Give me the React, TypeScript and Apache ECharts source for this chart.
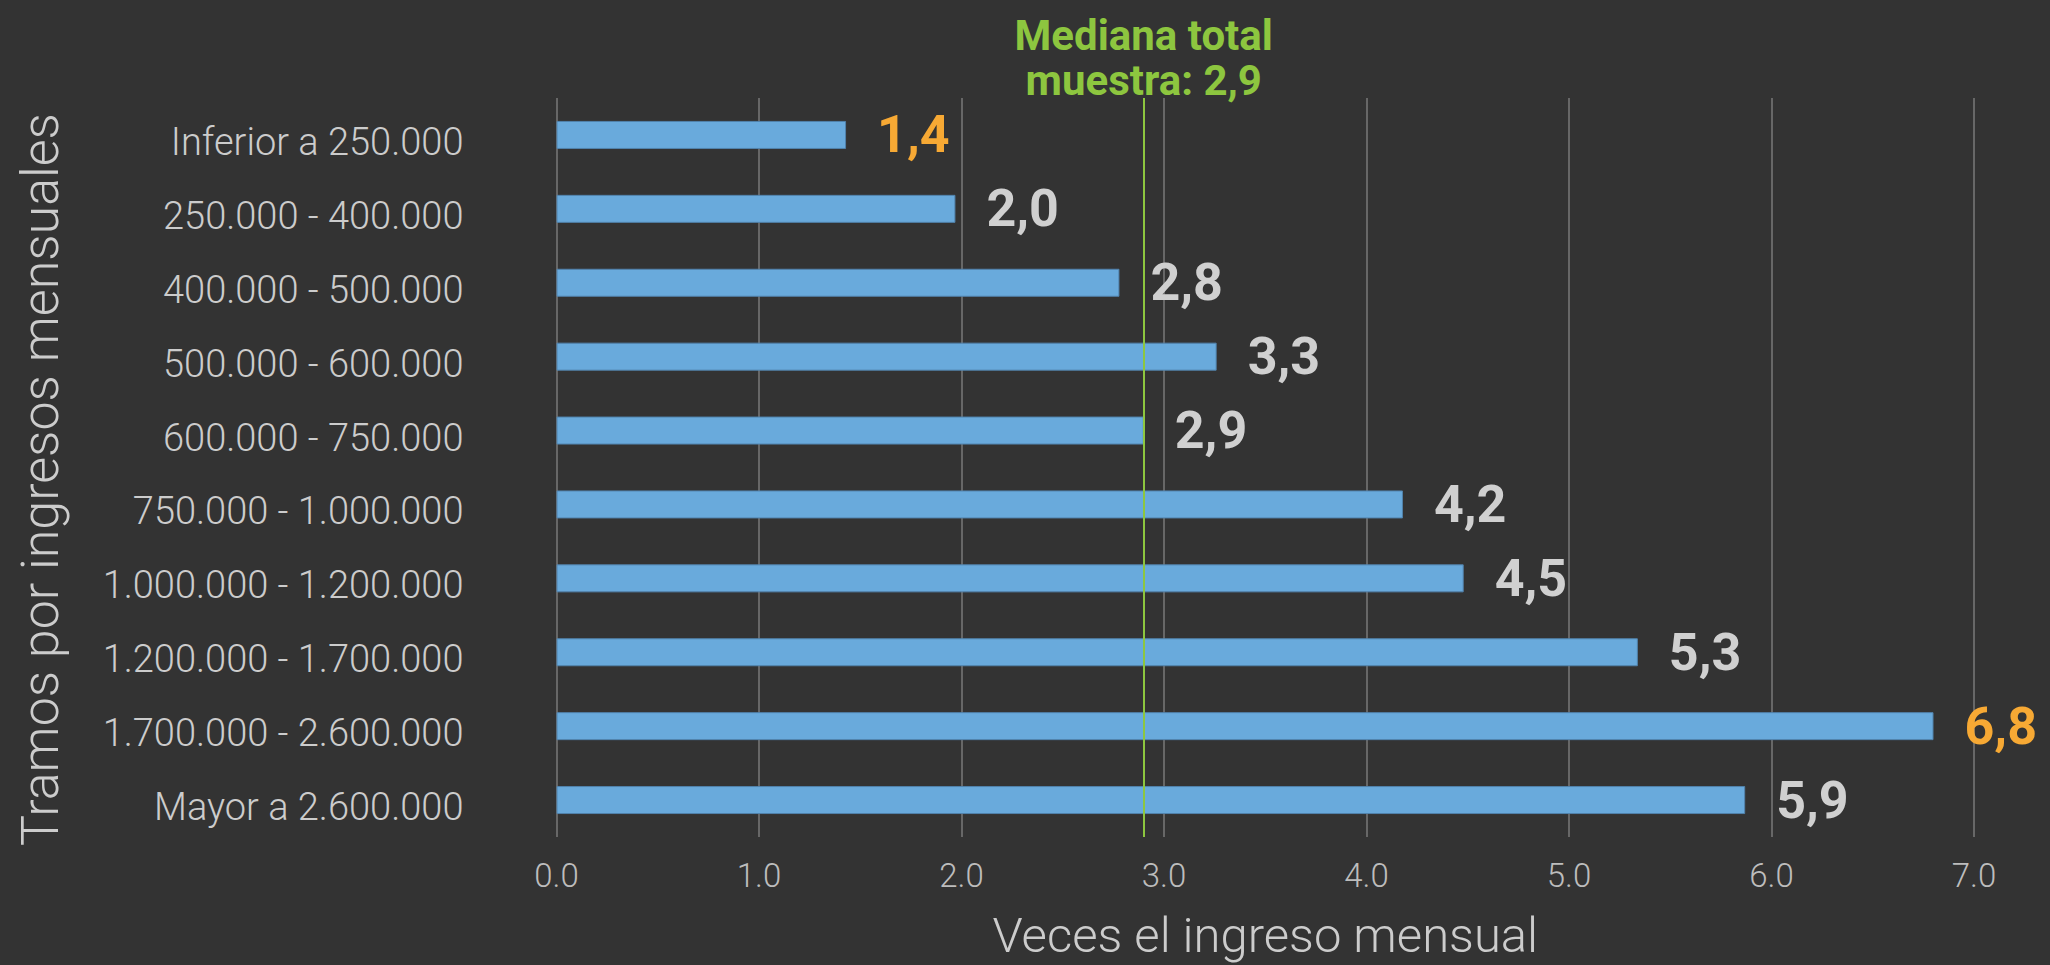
import React, { useEffect, useRef } from "react";
import * as echarts from "echarts";

const categories = [
  "Inferior a 250.000",
  "250.000 - 400.000",
  "400.000 - 500.000",
  "500.000 - 600.000",
  "600.000 - 750.000",
  "750.000 - 1.000.000",
  "1.000.000 - 1.200.000",
  "1.200.000 - 1.700.000",
  "1.700.000 - 2.600.000",
  "Mayor a 2.600.000",
];
const values = [1.43, 1.97, 2.78, 3.26, 2.9, 4.18, 4.48, 5.34, 6.8, 5.87];
const medianValue = 2.9;
const medianLabelLines = ["Mediana total", "muestra: 2,9"];
const xAxisName = "Veces el ingreso mensual";
const yAxisName = "Tramos por ingresos mensuales";

const FONT = "Roboto, 'Noto Sans', sans-serif";

export default function App() {
  const ref = useRef<HTMLDivElement>(null);
  useEffect(() => {
    if (!ref.current) return;
    const chart = echarts.init(ref.current, null, { renderer: "svg" });
    const maxV = Math.max(...values);
    const minV = Math.min(...values);
    const fmt = (v: number) => v.toFixed(1).replace(".", ",");
    const lineH = 45;
    chart.setOption({
      animation: false,
      backgroundColor: "#333333",
      grid: { left: 556.5, right: 76, top: 98, bottom: 127, containLabel: false },
      xAxis: {
        type: "value",
        min: 0,
        max: 7,
        interval: 1,
        axisLine: { show: false },
        axisTick: { show: false },
        splitLine: { show: true, lineStyle: { color: "#676767", width: 2 } },
        axisLabel: {
          color: "#bdbdbd",
          fontFamily: FONT,
          fontWeight: 300,
          fontSize: 33,
          margin: 22,
          formatter: (v: number) => v.toFixed(1),
        },
        name: xAxisName,
        nameLocation: "middle",
        nameGap: 74,
        nameTextStyle: { color: "#cccccc", fontFamily: FONT, fontWeight: 300, fontSize: 49 },
      },
      yAxis: {
        type: "category",
        data: categories,
        inverse: true,
        axisLine: { show: false },
        axisTick: { show: false },
        splitLine: { show: false },
        axisLabel: {
          color: "#cccccc",
          fontFamily: FONT,
          fontWeight: 300,
          fontSize: 38,
          margin: 93,
          verticalAlign: "top",
          lineHeight: 14,
        },
        name: yAxisName,
        nameLocation: "middle",
        nameRotate: 90,
        nameGap: 490,
        nameTextStyle: {
          color: "#cccccc",
          fontFamily: FONT,
          fontWeight: 300,
          fontSize: 52,
          padding: [0, 24, 0, 0],
        },
      },
      series: [
        {
          type: "bar",
          barWidth: 28,
          data: values.map((v) => ({
            value: v,
            label: {
              color: v === maxV || v === minV ? "#f7a934" : "#d0d0d0",
            },
          })),
          itemStyle: { color: "#69aadc", borderColor: "#5183ad", borderWidth: 1 },
          label: {
            show: true,
            position: "right",
            distance: 31,
            fontFamily: FONT,
            fontWeight: "bold",
            fontSize: 52,
            formatter: (p: any) => fmt(p.value),
          },
          markLine: {
            silent: true,
            symbol: "none",
            lineStyle: { color: "#8dc63f", width: 2, type: "solid" },
            label: {
              show: true,
              position: "start",
              color: "#8dc63f",
              fontFamily: FONT,
              fontWeight: "bold",
              fontSize: 42,
              lineHeight: 42,
              align: "center",
            },
            data: medianLabelLines.map((text, i) => ({
              xAxis: medianValue,
              label: {
                formatter: text,
                distance: (medianLabelLines.length - 1 - i) * lineH - 3,
              },
            })),
          },
        },
      ],
    });
    return () => chart.dispose();
  }, []);
  return (
    <div
      ref={ref}
      style={{ position: "fixed", left: 0, top: 0, width: 2050, height: 965 }}
    />
  );
}
